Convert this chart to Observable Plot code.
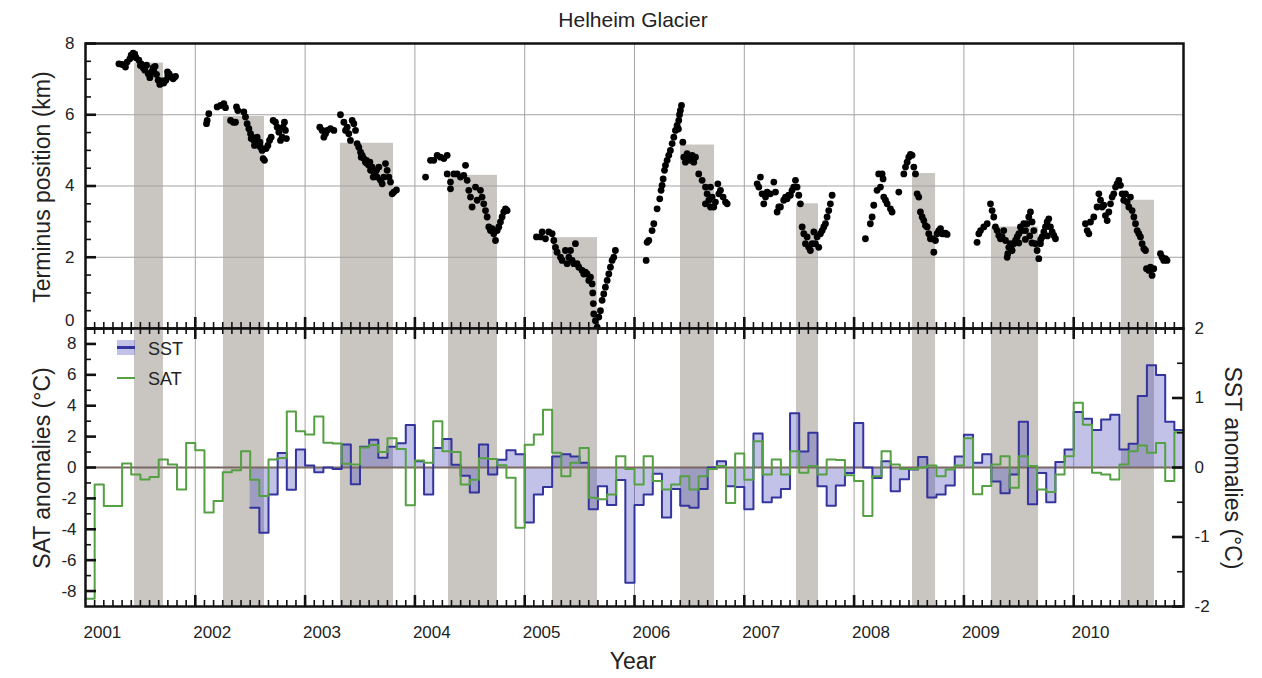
<!DOCTYPE html>
<html><head><meta charset="utf-8">
<script src="https://cdn.jsdelivr.net/npm/d3@7"></script>
<script src="https://cdn.jsdelivr.net/npm/@observablehq/plot@0.6"></script>
<style>
body{margin:0;background:#fff;font-family:"Liberation Sans",Arial,Helvetica,sans-serif;color:#222;}
#wrap{position:relative;width:1262px;height:678px;overflow:hidden;background:#fff;}
.t{position:absolute;white-space:nowrap;}
</style></head><body><div id="wrap"></div>
<script>
// ---------------- DATA ----------------
const yearLabels = ["2001","2002","2003","2004","2005","2006","2007","2008","2009","2010"];
const kmLabels = ["0","2","4","6","8"];
const satLabels = ["-8","-6","-4","-2","0","2","4","6","8"];
const sstLabels = ["-2","-1","0","1","2"];

// summer (melt-season) bands: start, end (decimal year), terminus at band start (km)
const bandStart = [2001.446, 2002.257, 2003.322, 2004.306, 2005.253, 2006.419, 2007.475, 2008.532, 2009.251, 2010.435];
const bandEnd   = [2001.710, 2002.630, 2003.805, 2004.752, 2005.663, 2006.729, 2007.676, 2008.742, 2009.680, 2010.736];
const bandTop   = [7.45, 5.95, 5.2, 4.3, 2.55, 5.15, 3.5, 4.35, 2.85, 3.6];

// terminus position [decimal year, km]
const t2001 = [[2001.304,7.43],[2001.334,7.41],[2001.364,7.34],[2001.379,7.48],[2001.404,7.57],[2001.416,7.67],[2001.434,7.73],[2001.449,7.70],[2001.46,7.6],[2001.486,7.53],[2001.50,7.38],[2001.507,7.43],[2001.525,7.32],[2001.540,7.25],[2001.556,7.39],[2001.571,7.15],[2001.586,7.04],[2001.59,7.1],[2001.601,7.20],[2001.616,7.32],[2001.62,7.25],[2001.634,7.36],[2001.647,7.13],[2001.662,6.97],[2001.677,6.85],[2001.695,6.95],[2001.70,6.92],[2001.713,6.89],[2001.732,6.97],[2001.747,7.20],[2001.75,7.1],[2001.762,7.15],[2001.780,7.06],[2001.798,7.01],[2001.81,7.05],[2001.820,7.08]];
const t2002 = [[2002.102,5.75],[2002.108,5.84],[2002.123,6.03],[2002.199,6.22],[2002.230,6.26],[2002.260,6.31],[2002.275,6.20],[2002.321,5.84],[2002.345,5.79],[2002.366,5.79],[2002.375,6.22],[2002.387,6.12],[2002.442,6.08],[2002.457,5.94],[2002.472,5.75],[2002.488,5.61],[2002.503,5.47],[2002.509,5.33],[2002.518,5.37],[2002.533,5.28],[2002.539,5.14],[2002.548,5.19],[2002.563,5.37],[2002.579,5.14],[2002.588,5.23],[2002.594,5.09],[2002.609,5.00],[2002.618,4.77],[2002.630,4.72],[2002.645,5.05],[2002.661,5.14],[2002.676,5.28],[2002.691,5.37],[2002.709,5.84],[2002.730,5.79],[2002.746,5.65],[2002.761,5.51],[2002.776,5.28],[2002.791,5.37],[2002.800,5.65],[2002.812,5.79],[2002.821,5.56],[2002.830,5.33]];
const t2003 = [[2003.134,5.65],[2003.155,5.56],[2003.171,5.37],[2003.186,5.47],[2003.201,5.56],[2003.231,5.61],[2003.262,5.56],[2003.322,6.00],[2003.353,5.79],[2003.368,5.56],[2003.383,5.65],[2003.398,5.47],[2003.413,5.28],[2003.429,5.84],[2003.444,5.75],[2003.459,5.56],[2003.474,5.19],[2003.489,5.09],[2003.505,4.95],[2003.511,4.81],[2003.520,4.86],[2003.535,4.77],[2003.550,4.67],[2003.559,4.72],[2003.565,4.63],[2003.580,4.58],[2003.590,4.67],[2003.596,4.44],[2003.611,4.53],[2003.620,4.25],[2003.626,4.39],[2003.641,4.30],[2003.650,4.44],[2003.656,4.25],[2003.672,4.53],[2003.687,4.16],[2003.702,4.06],[2003.717,4.25],[2003.732,4.63],[2003.747,4.44],[2003.763,4.25],[2003.778,4.11],[2003.793,3.78],[2003.808,3.83],[2003.832,3.89]];
const t2004 = [[2004.097,4.25],[2004.142,4.72],[2004.172,4.72],[2004.203,4.86],[2004.233,4.81],[2004.264,4.77],[2004.294,4.86],[2004.294,4.34],[2004.324,4.11],[2004.324,3.92],[2004.355,4.34],[2004.385,4.34],[2004.415,4.25],[2004.445,4.30],[2004.461,4.58],[2004.476,4.16],[2004.491,3.88],[2004.506,3.69],[2004.521,3.41],[2004.552,3.97],[2004.567,3.60],[2004.597,3.88],[2004.612,3.69],[2004.627,3.50],[2004.643,3.31],[2004.658,3.13],[2004.673,2.85],[2004.688,2.75],[2004.703,2.80],[2004.718,2.66],[2004.734,2.47],[2004.749,2.75],[2004.764,2.85],[2004.779,2.99],[2004.794,3.13],[2004.809,3.27],[2004.825,3.36],[2004.840,3.31]];
const t2005 = [[2005.107,2.57],[2005.143,2.57],[2005.159,2.71],[2005.189,2.52],[2005.219,2.71],[2005.250,2.66],[2005.265,2.47],[2005.280,2.28],[2005.295,2.14],[2005.326,2.00],[2005.341,1.91],[2005.371,2.19],[2005.386,1.82],[2005.402,2.00],[2005.417,2.19],[2005.432,1.91],[2005.447,1.82],[2005.462,2.38],[2005.477,1.82],[2005.493,1.72],[2005.523,1.63],[2005.538,1.53],[2005.553,1.58],[2005.568,1.53],[2005.584,1.35],[2005.599,1.44],[2005.614,1.25],[2005.620,1.0],[2005.625,0.7],[2005.629,0.41],[2005.644,0.22],[2005.660,0.04],[2005.675,0.32],[2005.690,0.50],[2005.705,0.79],[2005.720,0.97],[2005.735,1.16],[2005.751,1.35],[2005.766,1.53],[2005.781,1.72],[2005.796,1.91],[2005.811,2.00],[2005.826,2.19]];
const t2006 = [[2006.106,1.91],[2006.115,2.42],[2006.130,2.47],[2006.160,2.75],[2006.176,2.94],[2006.206,3.36],[2006.230,3.64],[2006.242,3.88],[2006.251,4.02],[2006.261,4.20],[2006.273,4.44],[2006.282,4.58],[2006.297,4.72],[2006.312,4.86],[2006.327,5.00],[2006.343,5.19],[2006.358,5.37],[2006.373,5.56],[2006.388,5.70],[2006.40,5.6],[2006.403,5.84],[2006.41,6.0],[2006.418,6.12],[2006.428,6.26],[2006.440,5.23],[2006.449,4.81],[2006.464,4.67],[2006.479,4.91],[2006.494,4.81],[2006.510,4.72],[2006.525,4.86],[2006.540,4.67],[2006.555,4.81],[2006.585,4.34],[2006.616,4.16],[2006.646,3.97],[2006.646,3.50],[2006.661,3.78],[2006.677,3.60],[2006.692,3.97],[2006.692,3.41],[2006.707,3.69],[2006.722,3.41],[2006.737,3.55],[2006.759,4.06],[2006.768,3.78],[2006.783,3.88],[2006.807,3.69],[2006.829,3.55],[2006.844,3.50]];
const t2007 = [[2007.117,4.06],[2007.132,3.97],[2007.147,4.25],[2007.162,3.78],[2007.177,3.50],[2007.193,3.69],[2007.208,3.83],[2007.238,3.78],[2007.269,4.11],[2007.284,3.83],[2007.299,3.27],[2007.314,3.41],[2007.329,3.41],[2007.359,3.60],[2007.375,3.69],[2007.390,3.64],[2007.405,3.74],[2007.420,3.74],[2007.435,3.88],[2007.450,3.97],[2007.466,4.16],[2007.481,3.97],[2007.496,3.74],[2007.511,3.50],[2007.527,2.85],[2007.542,2.66],[2007.557,2.38],[2007.572,2.57],[2007.587,2.28],[2007.602,2.19],[2007.618,2.38],[2007.633,2.71],[2007.648,2.38],[2007.663,2.57],[2007.678,2.28],[2007.693,2.66],[2007.709,2.75],[2007.724,2.85],[2007.739,2.94],[2007.754,3.13],[2007.769,3.31],[2007.784,3.50],[2007.800,3.74]];
const t2008 = [[2008.103,2.52],[2008.148,2.94],[2008.164,3.13],[2008.179,3.46],[2008.209,3.88],[2008.224,4.34],[2008.240,3.97],[2008.255,4.34],[2008.264,4.20],[2008.270,3.69],[2008.286,3.60],[2008.301,3.50],[2008.331,3.36],[2008.346,3.27],[2008.407,3.83],[2008.453,4.34],[2008.468,4.53],[2008.483,4.67],[2008.498,4.81],[2008.513,4.89],[2008.528,4.86],[2008.544,4.53],[2008.559,4.34],[2008.574,3.78],[2008.589,3.69],[2008.604,3.27],[2008.620,3.13],[2008.635,3.03],[2008.650,2.89],[2008.665,2.85],[2008.680,2.66],[2008.695,2.52],[2008.711,2.52],[2008.726,2.14],[2008.741,2.47],[2008.756,2.66],[2008.771,2.75],[2008.787,2.80],[2008.802,2.66],[2008.817,2.66],[2008.832,2.68],[2008.847,2.64]];
const t2009 = [[2009.120,2.42],[2009.136,2.66],[2009.151,2.75],[2009.181,2.85],[2009.212,2.94],[2009.242,3.50],[2009.257,3.31],[2009.272,3.13],[2009.287,2.85],[2009.303,2.75],[2009.318,2.61],[2009.333,2.52],[2009.348,2.57],[2009.363,2.75],[2009.379,2.47],[2009.394,2.00],[2009.40,2.1],[2009.409,2.28],[2009.424,2.38],[2009.43,2.3],[2009.439,2.19],[2009.454,2.38],[2009.470,2.47],[2009.485,2.57],[2009.50,2.4],[2009.500,2.66],[2009.515,2.85],[2009.530,2.75],[2009.545,2.94],[2009.56,2.5],[2009.561,2.75],[2009.576,2.94],[2009.591,3.13],[2009.60,2.6],[2009.606,3.27],[2009.62,2.4],[2009.621,2.99],[2009.637,2.75],[2009.652,2.38],[2009.667,2.19],[2009.682,1.96],[2009.697,2.38],[2009.70,2.5],[2009.712,2.57],[2009.728,2.71],[2009.743,2.85],[2009.758,2.99],[2009.76,2.6],[2009.773,3.08],[2009.788,2.85],[2009.804,2.71],[2009.819,2.61],[2009.834,2.52]];
const t2010 = [[2010.107,2.94],[2010.123,2.75],[2010.138,2.66],[2010.153,2.99],[2010.183,3.13],[2010.213,3.41],[2010.229,3.78],[2010.244,3.60],[2010.259,3.41],[2010.274,3.46],[2010.289,3.17],[2010.305,3.03],[2010.320,3.27],[2010.335,3.50],[2010.350,3.69],[2010.365,3.78],[2010.381,3.97],[2010.396,4.06],[2010.411,4.16],[2010.426,4.02],[2010.441,3.78],[2010.456,3.60],[2010.472,3.78],[2010.487,3.55],[2010.502,3.41],[2010.517,3.69],[2010.532,3.31],[2010.548,3.13],[2010.563,2.94],[2010.578,2.75],[2010.593,2.66],[2010.608,2.57],[2010.623,2.38],[2010.639,2.24],[2010.654,2.19],[2010.663,1.68],[2010.684,1.63],[2010.699,1.72],[2010.714,1.49],[2010.729,1.68],[2010.790,2.10],[2010.805,2.00],[2010.820,1.91],[2010.835,1.96],[2010.850,1.91]];

// monthly anomalies, Jan 2001 .. Dec 2010
const satAnom = [
 -8.5,-1.1,-2.5,-2.5,0.26,-0.45,-0.77,-0.62,0.52,0.2,-1.42,1.59,
 1.12,-2.92,-2.17,-0.3,-0.17,1.05,-0.8,-1.85,0.52,0.62,3.63,2.34,
 2.13,3.31,1.6,1.55,0.25,0.2,1.3,1.45,1.0,1.9,1.2,-2.45,
 0.45,0.3,3.0,1.05,1.0,-1.1,-0.8,0.6,0.55,0.15,-0.67,-3.9,
 1.48,2.13,3.74,0.95,-0.56,0.3,1.27,-1.96,-2.06,-1.75,0.73,-0.09,
 -1.1,0.73,-0.88,-1.42,-1.1,-0.56,-1.42,-0.56,-0.09,0.09,-2.3,0.9,
 -0.8,1.7,-0.45,0.52,-0.45,1.05,-0.34,0.09,-0.45,0.52,0.48,-0.5,
 -0.88,-3.14,-0.56,1.05,0.19,-0.09,-0.09,0.0,0.13,-0.56,-0.13,0.13,
 1.9,-1.74,-1.2,0.19,0.73,-1.31,0.73,0.09,-1.42,-1.59,-0.45,0.73,
 4.2,2.77,-0.34,-0.45,-0.77,0.19,1.05,1.42,0.95,1.59,-0.88,2.28
];
const sstAnom = [
 null,null,null,null,null,null,null,null,null,null,null,null,
 null,null,null,null,null,null,-0.58,-0.94,-0.39,0.21,-0.32,0.26,
 0.03,-0.07,0.0,-0.02,0.33,-0.24,0.3,0.4,0.14,0.3,0.35,0.61,
 0.09,-0.39,0.28,0.41,0.04,-0.12,-0.36,0.33,-0.1,0.11,0.25,0.19,
 -0.79,-0.39,-0.28,0.16,0.19,0.16,0.07,-0.6,-0.27,-0.54,-0.18,-1.66,
 -0.54,-0.39,-0.09,-0.72,-0.31,-0.55,-0.58,-0.31,0.0,0.09,-0.27,-0.28,
 -0.6,0.49,-0.5,-0.43,-0.31,0.78,0.23,0.5,-0.27,-0.55,-0.26,-0.08,
 0.64,0.0,-0.15,0.09,-0.34,-0.17,-0.03,0.15,-0.43,-0.39,-0.26,0.16,
 0.47,0.07,0.19,-0.2,-0.37,-0.1,0.66,-0.53,-0.08,-0.5,0.08,0.26,
 0.8,0.7,0.54,0.69,0.76,0.26,0.34,1.03,1.47,1.33,0.66,0.54
];

// ---------------- BUILD ----------------
const W = 1262, ML = 85, MR = 79, FW = W - ML - MR;
const x0 = +yearLabels[0], x1 = +yearLabels[yearLabels.length - 1] + 1;
const kmDomain = [0, 8];
const satDomain = [-9, 9], sstDomain = [-2, 2];
const K = satDomain[1] / sstDomain[1]; // SST -> SAT axis units

const bands = bandStart.map((s, i) => ({start: s, end: bandEnd[i], top: bandTop[i]}));
const terminus = [t2001,t2002,t2003,t2004,t2005,t2006,t2007,t2008,t2009,t2010].flat().map(([year, km]) => ({year, km}));
const satRows = satAnom.map((v, i) => ({t: x0 + i / 12, v}));
satRows.push({t: x1, v: satAnom[satAnom.length - 1]});
const sstRows = sstAnom.map((v, i) => ({t: x0 + i / 12, v})).filter(d => d.v != null);
sstRows.push({t: x1, v: sstAnom[sstAnom.length - 1]});

const yearPos = yearLabels.map(Number);
const yearInner = yearPos.slice(1);
const monthMinor = d3.range(1, 120).filter(i => i % 12 !== 0).map(i => x0 + i / 12);
const kmNum = kmLabels.map(Number);
const kmMinor = d3.range(0.5, 8, 0.5).filter(v => v % 2 !== 0);
const satNum = satLabels.map(Number);
const satMinor = d3.range(-7, 8, 2);
const sstNum = sstLabels.map(Number);
const sstMinor = [-1.5, -0.5, 0.5, 1.5];

const GRID = "#a3a3a3", BAND = "#c9c5c1", INK = "#111";
const FONT = "Liberation Sans, Arial, sans-serif";

const H1 = 330, MT1 = 43, MB1 = 2, FH1 = H1 - MT1 - MB1;
const H2 = 378, MT2 = 28, MB2 = 72, FH2 = H2 - MT2 - MB2;

// pixel lengths of inward ticks converted to scale units
const yrPerPx = (x1 - x0) / FW;
const kmPerPx = (kmDomain[1] - kmDomain[0]) / FH1;
const satPerPx = (satDomain[1] - satDomain[0]) / FH2;
const MINOR = {len: 6, sw: 1.6}, MAJOR = {len: 11, sw: 2.6};

function ticksBottom(vals, t, dom, perPx) {
  return Plot.ruleX(vals, {x: d => d, y1: dom[0], y2: dom[0] + t.len * perPx, stroke: INK, strokeWidth: t.sw});
}
function ticksTop(vals, t, dom, perPx) {
  return Plot.ruleX(vals, {x: d => d, y1: dom[1] - t.len * perPx, y2: dom[1], stroke: INK, strokeWidth: t.sw});
}
function ticksLeft(vals, t, f) {
  return Plot.ruleY(vals, {y: f, x1: x0, x2: x0 + t.len * yrPerPx, stroke: INK, strokeWidth: t.sw});
}
function ticksRight(vals, t, f) {
  return Plot.ruleY(vals, {y: f, x1: x1 - t.len * yrPerPx, x2: x1, stroke: INK, strokeWidth: t.sw});
}

const topPlot = Plot.plot({
  width: W, height: H1, marginLeft: ML, marginRight: MR, marginTop: MT1, marginBottom: MB1,
  style: {background: "transparent", overflow: "visible", fontFamily: FONT, color: "#222"},
  x: {domain: [x0, x1], axis: null},
  y: {domain: kmDomain, axis: null},
  marks: [
    Plot.rect(bands, {x1: "start", x2: "end", y1: 0, y2: "top", fill: BAND}),
    Plot.ruleX(yearInner, {stroke: GRID, strokeWidth: 1}),
    Plot.ruleY(kmNum.filter(v => v > 0 && v < 8), {stroke: GRID, strokeWidth: 1}),
    Plot.dot(terminus, {x: "year", y: "km", r: 3.4, fill: "#000", stroke: null}),
    ticksBottom(monthMinor, MINOR, kmDomain, kmPerPx),
    ticksBottom(yearInner, MAJOR, kmDomain, kmPerPx),
    ticksLeft(kmMinor, MINOR, d => d),
    ticksLeft(kmNum, MAJOR, d => d),
    Plot.frame({stroke: INK, strokeWidth: 2.5}),
    Plot.axisY(kmNum.filter(v => v > 0), {anchor: "left", label: null, tickSize: 0, tickPadding: 11, fontSize: 17, tickFormat: d => kmLabels[kmNum.indexOf(d)]}),
    Plot.axisY([kmNum[0]], {anchor: "left", label: null, tickSize: 0, tickPadding: 11, fontSize: 17, dy: -8, tickFormat: d => kmLabels[0]})
  ]
});

const bottomPlot = Plot.plot({
  width: W, height: H2, marginLeft: ML, marginRight: MR, marginTop: MT2, marginBottom: MB2,
  style: {background: "transparent", overflow: "visible", fontFamily: FONT, color: "#222"},
  x: {domain: [x0, x1], axis: null},
  y: {domain: satDomain, axis: null},
  marks: [
    Plot.rect(bands, {x1: "start", x2: "end", fill: BAND}),
    Plot.ruleX(yearInner, {stroke: GRID, strokeWidth: 1}),
    Plot.areaY(sstRows, {x: "t", y1: 0, y2: d => d.v * K, curve: "step-after", fill: "#4b4bbf", fillOpacity: 0.34}),
    Plot.ruleY([0], {stroke: "#7a6862", strokeWidth: 1.8}),
    Plot.line(sstRows, {x: "t", y: d => d.v * K, curve: "step-after", stroke: "#34349e", strokeWidth: 2}),
    Plot.line(satRows, {x: "t", y: "v", curve: "step-after", stroke: "#54a043", strokeWidth: 2}),
    ticksBottom(monthMinor, MINOR, satDomain, satPerPx),
    ticksBottom(yearInner, MAJOR, satDomain, satPerPx),
    ticksTop(monthMinor, MINOR, satDomain, satPerPx),
    ticksTop(yearInner, MAJOR, satDomain, satPerPx),
    ticksLeft(satMinor, MINOR, d => d),
    ticksLeft(satNum, MAJOR, d => d),
    ticksRight(sstMinor, MINOR, d => d * K),
    ticksRight(sstNum, MAJOR, d => d * K),
    Plot.frame({stroke: INK, strokeWidth: 2.5}),
    Plot.axisY(satNum, {anchor: "left", label: null, tickSize: 0, tickPadding: 9, fontSize: 17, tickFormat: d => satLabels[satNum.indexOf(d)]}),
    Plot.axisY(sstNum.map(v => v * K), {anchor: "right", label: null, tickSize: 0, tickPadding: 11, fontSize: 17, tickFormat: d => sstLabels[sstNum.indexOf(d / K)]}),
    Plot.axisX(yearPos, {anchor: "bottom", label: null, tickSize: 0, tickPadding: 19, fontSize: 17, textAnchor: "start", dx: -2, tickFormat: d => yearLabels[yearPos.indexOf(d)]})
  ]
});

const wrap = document.getElementById("wrap");
topPlot.style.position = "absolute"; topPlot.style.left = "0px"; topPlot.style.top = "0px";
bottomPlot.style.position = "absolute"; bottomPlot.style.left = "0px"; bottomPlot.style.top = (MT1 + FH1 - MT2) + "px";
wrap.appendChild(topPlot);
wrap.appendChild(bottomPlot);

function label(text, left, topPx, size, rot) {
  const d = document.createElement("div");
  d.className = "t";
  d.textContent = text;
  d.style.left = left + "px";
  d.style.top = topPx + "px";
  d.style.fontSize = size + "px";
  d.style.transform = "translate(-50%,-50%)" + (rot ? " rotate(" + rot + "deg)" : "");
  wrap.appendChild(d);
  return d;
}
label("Helheim Glacier", 633, 20, 21, 0);
label("Terminus position (km)", 42, 187, 23, -90);
label("SAT anomalies (°C)", 42, 468, 23, -90);
label("SST anomalies (°C)", 1232, 468, 23, 90);
label("Year", 633, 661, 23, 0);

// legend
function box(left, topPx, w, h, bg) {
  const d = document.createElement("div");
  d.style.position = "absolute";
  d.style.left = left + "px"; d.style.top = topPx + "px";
  d.style.width = w + "px"; d.style.height = h + "px";
  d.style.background = bg;
  wrap.appendChild(d);
}
box(117, 340, 18, 15, "rgba(75,75,191,0.34)");
box(117, 346, 18, 3, "#34349e");
box(117, 377, 18, 2, "#54a043");
const l1 = label("SST", 148, 349, 18, 0); l1.style.transform = "translate(0,-50%)";
const l2 = label("SAT", 148, 379, 18, 0); l2.style.transform = "translate(0,-50%)";
</script></body></html>
